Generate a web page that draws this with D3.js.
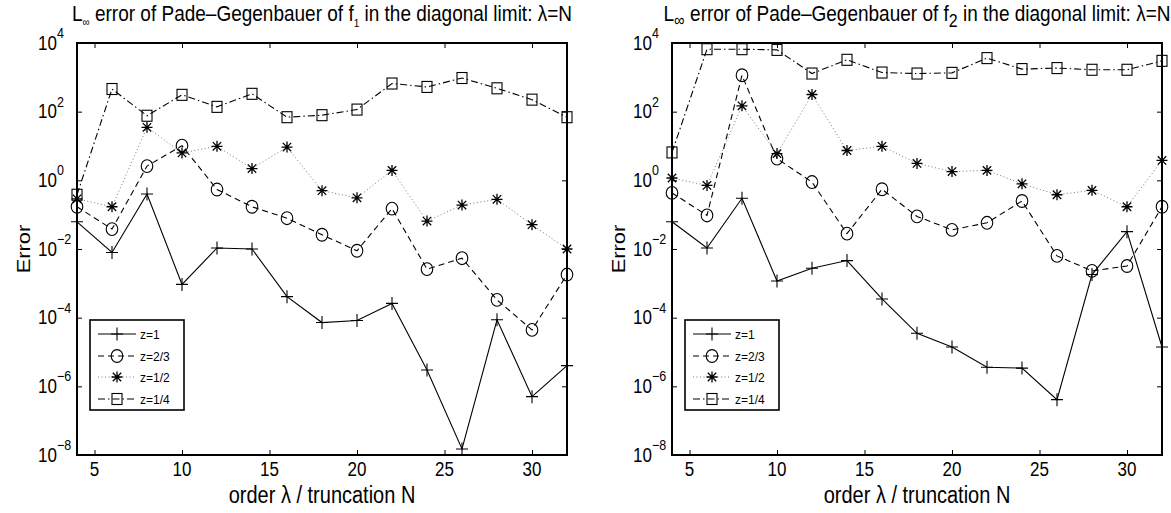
<!DOCTYPE html>
<html><head><meta charset="utf-8">
<script src="https://cdn.jsdelivr.net/npm/d3@7"></script>
<style>
body{margin:0;background:#fff}
text{font-family:"Liberation Sans",Arial,Helvetica,sans-serif;fill:#000}
</style>
</head><body>
<svg id="c" width="1171" height="513"></svg>
<script>
// ---------- data ----------
const orders = [4,6,8,10,12,14,16,18,20,22,24,26,28,30,32];
const xTicks = [5,10,15,20,25,30];
const yTickExps = [4,2,0,-2,-4,-6,-8];
const seriesNames = ["z=1","z=2/3","z=1/2","z=1/4"];

// f1 panel
const f1_z1   = [6.2e-2,7.9e-3,0.40,9.3e-4,1.07e-2,1.0e-2,4.1e-4,7.2e-5,8.3e-5,2.6e-4,3.0e-6,1.5e-8,8.7e-5,5.0e-7,4.0e-6];
const f1_z23  = [0.17,3.8e-2,2.6,10.2,0.54,0.17,7.9e-2,2.6e-2,8.9e-3,0.15,2.6e-3,5.4e-3,3.3e-4,4.4e-5,1.8e-3];
const f1_z12  = [0.29,0.17,35,6.3,9.8,2.2,9.3,0.50,0.31,1.95,6.5e-2,0.19,0.28,5.1e-2,1.0e-2];
const f1_z14  = [0.38,457,76,309,138,331,69,79,115,660,525,955,479,224,69];

// f2 panel
const f2_z1   = [6.2e-2,1.07e-2,0.30,1.17e-3,2.75e-3,4.6e-3,3.5e-4,3.5e-5,1.4e-5,3.6e-6,3.4e-6,4.1e-7,1.8e-3,3.2e-2,1.4e-5];
const f2_z23  = [0.43,9.5e-2,1150,4.3,0.89,2.8e-2,0.55,8.9e-2,3.6e-2,5.8e-2,0.25,6.3e-3,2.3e-3,3.2e-3,0.17];
const f2_z12  = [1.17,0.71,148,6.0,316,7.4,9.8,3.1,1.8,1.95,0.79,0.38,0.51,0.17,3.8];
const f2_z14  = [6.5,6600,6600,6300,1290,3240,1380,1290,1350,3630,1740,1860,1660,1660,3020];

const titleSub = ["1","2"];
const xLabel = "order λ / truncation N";
const yLabel = "Error";

// ---------- layout / style ----------
const panels = [
  {x0:77, y0:43, w:490, h:412, series:[f1_z1,f1_z23,f1_z12,f1_z14], sub:titleSub[0], subSize:10, infSize:10},
  {x0:672,y0:43, w:490, h:412, series:[f2_z1,f2_z23,f2_z12,f2_z14], sub:titleSub[1], subSize:16, infSize:15}
];
const styles = [
  {dash:null, color:"#000", width:1.1, marker:"plus"},
  {dash:"6,4", color:"#000", width:1.1, marker:"circle"},
  {dash:"1,2.5", color:"#777", width:1, marker:"star"},
  {dash:"7,3,1.5,3", color:"#000", width:1.1, marker:"square"}
];
const vStretch = 1.15;

const svg = d3.select("#c");

function stretchedText(g, x, y, size){
  return g.append("text")
    .attr("transform",`translate(${x},${y}) scale(1,${vStretch})`)
    .attr("font-size",size);
}

function drawMarker(g, type, cx, cy){
  if(type==="plus"){
    g.append("path").attr("d",`M${cx-6},${cy}H${cx+6}M${cx},${cy-6.5}V${cy+6.5}`)
      .attr("stroke","#000").attr("stroke-width",1.1).attr("fill","none");
  } else if(type==="circle"){
    g.append("ellipse").attr("cx",cx).attr("cy",cy).attr("rx",5.8).attr("ry",6.4)
      .attr("stroke","#000").attr("stroke-width",1.1).attr("fill","none");
  } else if(type==="star"){
    const r=5.5, rd=4.2;
    g.append("path").attr("d",
      `M${cx-r},${cy}H${cx+r}M${cx},${cy-r}V${cy+r}M${cx-rd},${cy-rd}L${cx+rd},${cy+rd}M${cx-rd},${cy+rd}L${cx+rd},${cy-rd}`)
      .attr("stroke","#000").attr("stroke-width",1.3).attr("fill","none");
  } else if(type==="square"){
    g.append("rect").attr("x",cx-5).attr("y",cy-5.5).attr("width",10).attr("height",11)
      .attr("stroke","#000").attr("stroke-width",1.1).attr("fill","none");
  }
}

panels.forEach(p=>{
  const x = d3.scaleLinear().domain([4,32]).range([p.x0, p.x0+p.w]);
  const y = d3.scaleLog().domain([1e-8,1e4]).range([p.y0+p.h, p.y0]);
  const g = svg.append("g");

  const yTickVals = yTickExps.map(e=>Math.pow(10,e));
  const axes = [
    [d3.axisBottom(x).tickValues(xTicks), `translate(0,${p.y0+p.h})`],
    [d3.axisTop(x).tickValues(xTicks), `translate(0,${p.y0})`],
    [d3.axisLeft(y).tickValues(yTickVals), `translate(${p.x0},0)`],
    [d3.axisRight(y).tickValues(yTickVals), `translate(${p.x0+p.w},0)`]
  ];
  axes.forEach(([ax,tr])=>{
    const a = g.append("g").attr("transform",tr)
      .call(ax.tickSize(-5).tickFormat(""));
    a.select(".domain").remove();
    a.selectAll("line").attr("stroke","#000").attr("stroke-width",1);
  });

  g.append("rect").attr("x",p.x0).attr("y",p.y0).attr("width",p.w).attr("height",p.h)
    .attr("fill","none").attr("stroke","#000").attr("stroke-width",2);

  xTicks.forEach(t=>{
    stretchedText(g, x(t), p.y0+p.h+21, 17).attr("text-anchor","middle").text(t);
  });
  yTickExps.forEach(e=>{
    const ty = y(Math.pow(10,e));
    stretchedText(g, p.x0-20, ty+6.5, 17).attr("text-anchor","end").text("10");
    stretchedText(g, p.x0-20, ty-5, 12.5).text(e<0 ? "\u2212"+(-e) : String(e));
  });

  p.series.forEach((vals,i)=>{
    const st = styles[i];
    const pts = orders.map((o,j)=>[o,vals[j]]);
    const line = d3.line().x(d=>x(d[0])).y(d=>y(d[1]));
    const path = g.append("path").attr("d",line(pts)).attr("fill","none")
      .attr("stroke",st.color).attr("stroke-width",st.width);
    if(st.dash) path.attr("stroke-dasharray",st.dash);
    const mg = g.append("g");
    pts.forEach(d=>drawMarker(mg, st.marker, x(d[0]), y(d[1])));
  });

  const lx = p.x0+13, ly = p.y0+277, lw = 94, lh = 90;
  g.append("rect").attr("x",lx).attr("y",ly).attr("width",lw).attr("height",lh)
    .attr("fill","#fff").attr("stroke","#000").attr("stroke-width",1.6);
  const rowY = [14,36,57,79];
  seriesNames.forEach((nm,i)=>{
    const st = styles[i];
    const yy = ly+rowY[i];
    const l = g.append("line").attr("x1",lx+8).attr("x2",lx+46).attr("y1",yy).attr("y2",yy)
      .attr("stroke",st.color).attr("stroke-width",st.width);
    if(st.dash) l.attr("stroke-dasharray",st.dash);
    drawMarker(g, st.marker, lx+27, yy);
    g.append("text").attr("x",lx+50).attr("y",yy+4.5).attr("font-size",12).text(nm);
  });

  const cx = p.x0+p.w/2;
  const tt = stretchedText(g, cx, p.y0-22, 19).attr("text-anchor","middle");
  tt.append("tspan").text("L");
  tt.append("tspan").attr("font-size",p.infSize).attr("dy",4).text("\u221E");
  tt.append("tspan").attr("dy",-4).text(" error of Pade\u2013Gegenbauer of f");
  tt.append("tspan").attr("font-size",p.subSize).attr("dy",5).text(p.sub);
  tt.append("tspan").attr("dy",-5).text(" in the diagonal limit: \u03BB=N");

  stretchedText(g, cx, 503, 20).attr("text-anchor","middle").text(xLabel);
  g.append("text").attr("transform",`translate(${p.x0-47},${p.y0+p.h/2}) rotate(-90) scale(${vStretch},1)`)
    .attr("text-anchor","middle").attr("font-size",19).text(yLabel);
});
</script>
</body></html>
